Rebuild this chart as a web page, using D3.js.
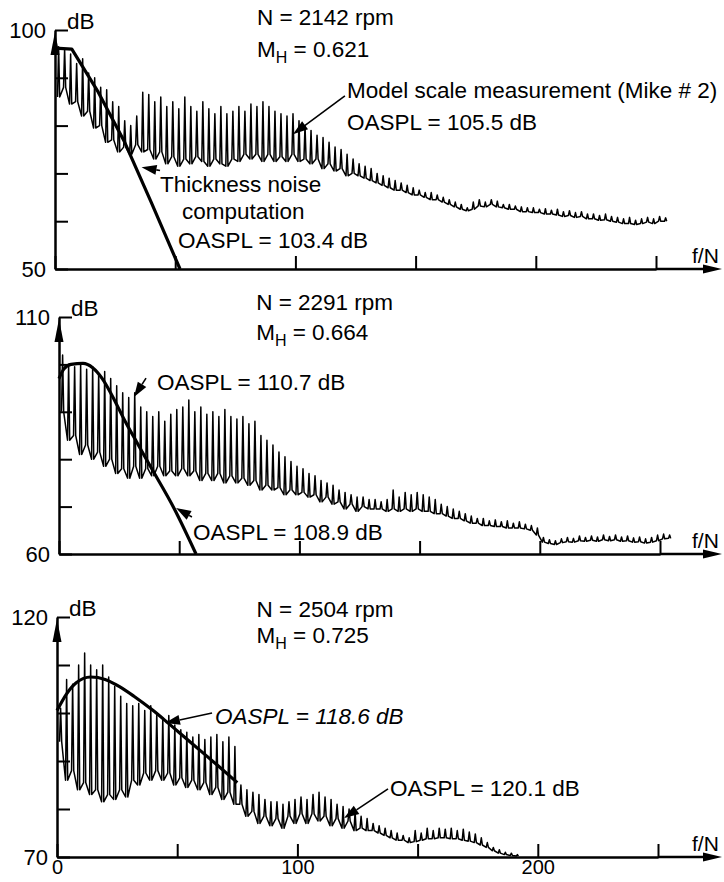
<!DOCTYPE html>
<html>
<head>
<meta charset="utf-8">
<script src="https://cdn.jsdelivr.net/npm/d3@7"></script>
<style>
  body { margin: 0; background: #fff; }
  svg { display: block; font-family: "Liberation Sans", Arial, sans-serif; }
  .axis .domain { stroke: #000; stroke-width: 2.5; }
  .axis .tick line { stroke: #000; stroke-width: 2; }
  .axis .tick text { font-size: 22px; fill: #000; font-family: "Liberation Sans", Arial, sans-serif; }
  .axis.x3 .tick text { font-size: 20px; }
  .note { font-size: 22.5px; fill: #000; }
  .unit { font-size: 21px; fill: #000; }
</style>
</head>
<body>
<div id="chart"></div>
<script>
// narrowband analyser grid (f/N), one line per harmonic
const harmonicStart = 1.5;
const harmonicStep = 2.5;

// upper (hi) and lower (lo) levels of each harmonic, dB
const hi1 = [
  96.5, 96, 95, 93, 94, 91, 90, 88, 87.5, 85,
  84, 81, 80, 82, 87, 86.5, 85, 86, 84, 85,
  83.5, 86, 84, 83, 85, 83.5, 82.5, 84, 82.5, 83,
  84, 83, 84.5, 84, 85, 84, 83, 82.5, 82, 82.5,
  81, 80, 79, 78, 77.5, 76.5, 75.5, 75, 74, 73,
  72, 71.5, 71, 70, 69.5, 69, 68.5, 68, 67.5, 67,
  66.5, 66, 66, 65.5, 65, 64.5, 64, 63.5, 62.8, 64,
  64.5, 64, 64.5, 64.2, 63.5, 63.5, 63.2, 63, 62.8, 62.8,
  62.5, 62.6, 62.3, 62.5, 62, 62.2, 61.8, 62, 61.5, 61.5,
  61.2, 61.5, 61, 60.8, 60.5, 60.8, 60.2, 60.5, 60.8, 60.5,
  61, 60.7
];
const lo1 = [
  86, 88, 84.5, 85, 82, 83, 79.5, 80, 76.5, 77,
  74.5, 75.5, 74, 76, 74.5, 75, 73, 74.5, 72, 73.5,
  71.5, 73, 72, 73.5, 72.5, 71.5, 73, 72, 71.5, 73,
  72.5, 74, 73, 74, 72.5, 74, 72.5, 73.5, 72.5, 74,
  72.5, 73, 72, 73, 71, 72, 70.5, 71, 69.5, 70,
  69.5, 69, 68.5, 68, 67.5, 67, 66.5, 66.5, 66, 65.5,
  65.5, 65, 64.5, 64.5, 64, 63.5, 63, 62.5, 62.2, 62.5,
  63.2, 63, 63.5, 63, 62.8, 62.5, 62.5, 62, 62, 61.8,
  61.8, 61.5, 61.5, 61.3, 61, 61.2, 60.8, 61, 60.5, 60.5,
  60.2, 60.3, 60, 59.8, 59.5, 59.5, 59.3, 59.5, 59.8, 59.5,
  60, 60
];
const hi2 = [
  102, 100, 99.5, 100, 99, 99.5, 98, 98.5, 97, 95.5,
  94, 93, 94, 91, 90, 89, 90, 88, 89.5, 90.5,
  91, 92.5, 90, 91, 89.5, 90, 89, 90.5, 89, 88.5,
  89, 87.5, 88, 85, 84, 83, 81.5, 80.5, 79.5, 78.5,
  78, 77, 76.5, 75.5, 75, 74.5, 73.5, 73, 72.5, 72,
  72, 71.5, 71.5, 71, 71.5, 73.5, 72, 73, 72.5, 73,
  72.5, 72, 71.5, 70.5, 70, 69.5, 69, 68.5, 68, 67.5,
  67.5, 67, 67.2, 66.8, 67, 66.5, 66.8, 66.3, 66, 65.5,
  63.5, 63, 62.8, 63.2, 63.5, 63.3, 63.8, 63.5, 63.8, 63.6,
  64, 63.7, 64, 63.6, 63.8, 63.4, 63.6, 63.2, 63.5, 64,
  64.2, 64
];
const lo2 = [
  90, 84, 85, 81, 83, 80, 81.5, 78.5, 80, 77,
  78, 76, 78.5, 76, 78, 76.5, 78.5, 76.5, 77.5, 76.5,
  78, 76.5, 77.5, 75.5, 77, 75.5, 77, 75, 76.5, 75,
  76, 74.5, 75.5, 73.5, 74.5, 73.5, 74, 72.5, 73.5, 72.5,
  73, 72, 72.5, 71, 72, 70.5, 71, 69.5, 70.5, 69,
  70, 69.5, 69.5, 69.5, 69, 69.5, 69, 69.5, 69, 69.5,
  69, 69, 68.5, 68.5, 68, 67.5, 67.5, 67, 66.5, 66.5,
  66, 66, 65.8, 65.8, 65.5, 65.5, 65.5, 65.3, 65, 64,
  62.5, 62.2, 62, 62.4, 62.6, 62.5, 62.8, 62.7, 62.9, 62.7,
  63, 62.8, 63, 62.7, 62.8, 62.5, 62.6, 62.3, 62.5, 62.8,
  63.2, 63.3
];
const hi3 = [
  101, 107, 106, 110, 112.5, 110, 109, 110, 107.5, 105.5,
  103.5, 102, 101.5, 102, 100.5, 101.5, 100, 99, 99.5, 97.5,
  96.5, 96, 95, 95.5, 94.5, 95, 95.5, 94, 95, 93,
  85, 84, 83.5, 83, 82, 81.5, 81.5, 81, 81.5, 82,
  82.5, 82, 83, 83.5, 82.5, 82, 81, 80.5, 80, 79.5,
  78.5, 78, 77, 76.5, 76, 75.5, 75, 74.5, 74, 75.5,
  75, 76, 75.5, 76, 75.8, 76, 75.5, 75.8, 75.2, 74.8,
  74, 73, 72, 71.5, 71, 70.8, 70.5
];
const lo3 = [
  94, 86, 88, 84, 85.5, 83, 84, 81.5, 83, 82,
  84, 82.5, 86, 85, 87.5, 86, 88, 86, 87.5, 85,
  86.5, 84.5, 86, 84, 85.5, 83, 84.5, 82, 83.5, 81,
  81, 78.5, 79.5, 77, 78.5, 76.5, 78, 76, 78.5, 77,
  79, 77, 79, 77.5, 78.5, 76.5, 78, 76, 77.5, 75.5,
  76, 75.5, 75.5, 75, 74.5, 74, 73.5, 73.5, 73, 73.2,
  73.5, 73.8, 73.8, 74, 74, 73.8, 73.8, 73.5, 73.3, 73,
  72.5, 72, 71.3, 70.8, 70.5, 70.3, 70.2
];

// thickness noise computation, [f/N, dB]
const thick1 = [[0, 96.2], [7, 96], [18, 87], [29, 76.5], [40, 64], [52, 50]];
const thick2 = [[0, 97], [2, 99], [5, 100], [10, 100.2], [14, 99.3], [18, 97], [22, 93.5],
  [27, 88.5], [33, 83], [38, 78.5], [48, 69.5], [57, 60]];
const thick3 = [[0, 100.5], [4, 104], [8, 106.3], [14, 107.5], [20, 107], [26, 105.5],
  [32, 103.5], [40, 100.5], [46, 98], [53, 95], [60, 92], [67, 89], [75, 85.5]];

const yTicks1 = [50, 60, 70, 80, 90, 100];
const yTicks2 = [60, 70, 80, 90, 100, 110];
const yTicks3 = [70, 80, 90, 100, 110, 120];
const xTicks = [0, 50, 100, 150, 200, 250];
const xLabels = [0, 100, 200];

const speeds = ["2142", "2291", "2504"];
const machs = ["0.621", "0.664", "0.725"];
const measuredOaspl = ["105.5", "110.7", "120.1"];
const thicknessOaspl = ["103.4", "108.9", "118.6"];

const width = 724;
const height = 882;
const arrowTipX = 722;

class Panel {
  constructor(svg, props) {
    this.svg = svg;
    this.props = props;
    this.g = svg.append("g");
    this.createScale()
      .addAxis()
      .addSpectrum()
      .addThickness()
      .addNotes();
  }

  createScale() {
    const { left, top, bottom, yTicks } = this.props;
    this.x = d3.scaleLinear().domain([0, 250]).range([left, left + 601]);
    this.y = d3.scaleLinear().domain(d3.extent(yTicks)).range([bottom, top]);
    return this;
  }

  addAxis() {
    const { left, top, bottom, yTicks, showX } = this.props;
    const [yMin, yMax] = this.y.domain();

    const yAxis = d3.axisLeft(this.y)
      .tickValues(yTicks)
      .tickSize(-13)
      .tickSizeOuter(0)
      .tickPadding(9)
      .tickFormat(d => (d === yMin || d === yMax ? d : ""));
    this.g.append("g")
      .attr("class", "axis")
      .attr("transform", `translate(${left},0)`)
      .call(yAxis);

    const xAxis = d3.axisBottom(this.x)
      .tickValues(xTicks)
      .tickSize(-13)
      .tickSizeOuter(0)
      .tickPadding(3)
      .tickFormat(d => (showX && xLabels.includes(d) ? d : ""));
    this.g.append("g")
      .attr("class", showX ? "axis x3" : "axis")
      .attr("transform", `translate(0,${bottom})`)
      .call(xAxis);

    // axis extension and arrow heads
    this.g.append("line")
      .attr("x1", this.x(250)).attr("x2", arrowTipX - 10)
      .attr("y1", bottom).attr("y2", bottom)
      .attr("stroke", "#000").attr("stroke-width", 2.5);
    this.g.append("path")
      .attr("d", `M${arrowTipX},${bottom}L${arrowTipX - 19},${bottom - 4.5}L${arrowTipX - 19},${bottom + 4.5}Z`)
      .attr("fill", "#000");
    this.g.append("path")
      .attr("d", `M${left},${top + 2}L${left - 4.5},${top + 25}L${left + 4.5},${top + 25}Z`)
      .attr("fill", "#000");

    this.g.append("text")
      .attr("class", "note")
      .attr("x", left + 12)
      .attr("y", top - 1)
      .text("dB");
    this.g.append("text")
      .attr("class", "unit")
      .attr("x", arrowTipX - 30)
      .attr("y", bottom - 6)
      .text("f/N");
    return this;
  }

  addSpectrum() {
    const { hi, lo } = this.props;
    const freqs = d3.range(hi.length).map(i => harmonicStart + i * harmonicStep);
    const w = 0.45;
    const pts = [];
    freqs.forEach((f, i) => {
      pts.push([f - w, lo[i]], [f, hi[i]], [f + w, lo[i]]);
    });
    const line = d3.line()
      .x(d => this.x(d[0]))
      .y(d => this.y(d[1]));
    this.g.append("path")
      .datum(pts)
      .attr("d", line)
      .attr("fill", "none")
      .attr("stroke", "#000")
      .attr("stroke-width", 1.5)
      .attr("stroke-linejoin", "round");
    return this;
  }

  addThickness() {
    const { thick, curve } = this.props;
    const line = d3.line()
      .curve(curve)
      .x(d => this.x(d[0]))
      .y(d => this.y(d[1]));
    this.g.append("path")
      .datum(thick)
      .attr("d", line)
      .attr("fill", "none")
      .attr("stroke", "#000")
      .attr("stroke-width", 3.2)
      .attr("stroke-linejoin", "round");
    return this;
  }

  addNotes() {
    const { notes, arrows } = this.props;
    const g = this.g;
    notes.forEach(n => {
      const t = g.append("text")
        .attr("class", "note")
        .attr("x", this.x(n.f))
        .attr("y", this.y(n.db))
        .style("font-style", n.italic ? "italic" : null);
      if (n.sub) {
        t.append("tspan").text("M");
        t.append("tspan").attr("dy", 6).style("font-size", "16px").text("H");
        t.append("tspan").attr("dy", -6).text(" = " + n.text);
      } else {
        t.text(n.text);
      }
    });
    arrows.forEach(a => {
      const x1 = this.x(a.from[0]), y1 = this.y(a.from[1]);
      const x2 = this.x(a.to[0]), y2 = this.y(a.to[1]);
      const ang = Math.atan2(y2 - y1, x2 - x1);
      const len = 15, half = 5;
      const bx = x2 - len * Math.cos(ang), by = y2 - len * Math.sin(ang);
      const px = -Math.sin(ang) * half, py = Math.cos(ang) * half;
      g.append("line")
        .attr("x1", x1).attr("y1", y1).attr("x2", bx).attr("y2", by)
        .attr("stroke", "#000").attr("stroke-width", 1.6);
      g.append("path")
        .attr("d", `M${x2},${y2}L${bx + px},${by + py}L${bx - px},${by - py}Z`)
        .attr("fill", "#000");
    });
    return this;
  }
}

const svg = d3.select("#chart")
  .append("svg")
  .attr("width", width)
  .attr("height", height);

new Panel(svg, {
  left: 55, top: 30, bottom: 269, yTicks: yTicks1, showX: false,
  hi: hi1, lo: lo1, thick: thick1, curve: d3.curveLinear,
  notes: [
    { f: 84, db: 101.0, text: "N = " + speeds[0] + " rpm" },
    { f: 84, db: 94.4, text: machs[0], sub: true },
    { f: 121.5, db: 85.8, text: "Model scale measurement (Mike # 2)" },
    { f: 121.5, db: 79.1, text: "OASPL = " + measuredOaspl[0] + " dB" },
    { f: 43.7, db: 66.1, text: "Thickness noise" },
    { f: 52.8, db: 60.5, text: "computation" },
    { f: 51.2, db: 54.4, text: "OASPL = " + thicknessOaspl[0] + " dB" }
  ],
  arrows: [
    { from: [120.6, 86.2], to: [99, 78.2] },
    { from: [43.7, 70.6], to: [36, 71.3] }
  ]
});

new Panel(svg, {
  left: 59, top: 317, bottom: 554, yTicks: yTicks2, showX: false,
  hi: hi2, lo: lo2, thick: thick2, curve: d3.curveMonotoneX,
  notes: [
    { f: 82, db: 111.5, text: "N = " + speeds[1] + " rpm" },
    { f: 82, db: 105.1, text: machs[1], sub: true },
    { f: 40.8, db: 94.6, text: "OASPL = " + measuredOaspl[1] + " dB" },
    { f: 55.7, db: 63, text: "OASPL = " + thicknessOaspl[1] + " dB" }
  ],
  arrows: [
    { from: [36.2, 97.1], to: [31.2, 93.1] },
    { from: [55.3, 67.8], to: [48.7, 69.7] }
  ]
});

new Panel(svg, {
  left: 57, top: 617, bottom: 857, yTicks: yTicks3, showX: true,
  hi: hi3, lo: lo3, thick: thick3, curve: d3.curveMonotoneX,
  notes: [
    { f: 83, db: 120, text: "N = " + speeds[2] + " rpm" },
    { f: 83, db: 114.6, text: machs[2], sub: true },
    { f: 65.7, db: 97.7, text: "OASPL = " + thicknessOaspl[2] + " dB", italic: true },
    { f: 138.5, db: 82.7, text: "OASPL = " + measuredOaspl[2] + " dB" }
  ],
  arrows: [
    { from: [64.5, 100], to: [44.9, 97.9] },
    { from: [137.7, 84.2], to: [119.4, 78.1] }
  ]
});
</script>
</body>
</html>
